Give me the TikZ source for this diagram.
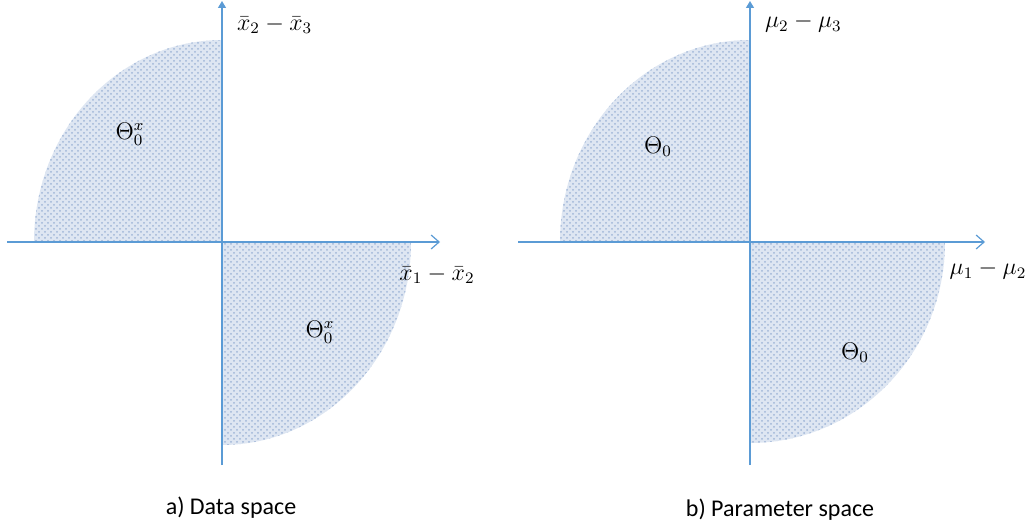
\documentclass[tikz,border=0pt]{standalone}
\usepackage{amsmath,amssymb}
\usepackage{fontspec}
\newfontfamily\capfont{Carlito}
\usepackage{tikz}
\usetikzlibrary{arrows.meta, patterns}

\definecolor{axisblue}{RGB}{91,155,213}
\definecolor{regionbg}{RGB}{222,230,242}
\definecolor{regiondot}{RGB}{160,182,215}

\begin{document}
\begin{tikzpicture}[
    x=0.5pt, y=-0.5pt,
    axis/.style={draw=axisblue, line width=0.6pt},
    xaxis/.style={axis, -{Straight Barb[length=4pt, width=7pt]}},
    yaxis/.style={axis, -{Triangle[length=3.5pt, width=4pt]}},
    region/.style={fill=regionbg, postaction={pattern=crosshatch dots, pattern color=regiondot}},
    lbl/.style={font=\fontsize{12}{14}\selectfont},
    caption/.style={font=\capfont\fontsize{12}{14}\selectfont}
]
\useasboundingbox (0,0) rectangle (1029,529);

% a) DATA SPACE
\begin{scope}[shift={(222,242)}]
    \coordinate (O1) at (0,0);
    \fill[region] (O1) -- (-188,0) arc[start angle=180, end angle=90, x radius=94pt, y radius=101pt] -- cycle;
    \fill[region] (O1) -- (189,0) arc[start angle=0, end angle=-90, x radius=94.5pt, y radius=101.5pt] -- cycle;

    \coordinate (xs1) at (-215,0);
    \coordinate (xe1) at (218,0);
    \coordinate (ys1) at (0,223);
    \coordinate (ye1) at (0,-241);
    \draw[xaxis] (xs1) -- (xe1);
    \draw[yaxis] (ys1) -- (ye1);

    \node[lbl, anchor=west] (ylab1) at (8,-217) {$\bar{x}_2-\bar{x}_3$};
    \node[lbl] (xlab1) at (215,33) {$\bar{x}_1-\bar{x}_2$};
    \node[lbl] (th1a) at (-92,-108) {$\Theta_0^x$};
    \node[lbl] (th1b) at (98,90) {$\Theta_0^x$};
\end{scope}
\node[caption] (capa) at (231,508) {a) Data space};

% b) PARAMETER SPACE
\begin{scope}[shift={(750,242)}]
    \coordinate (O2) at (0,0);
    \fill[region] (O2) -- (-190,0) arc[start angle=180, end angle=90, x radius=95pt, y radius=101pt] -- cycle;
    \fill[region] (O2) -- (195,0) arc[start angle=0, end angle=-90, x radius=97.5pt, y radius=100.5pt] -- cycle;

    \coordinate (xs2) at (-232,0);
    \coordinate (xe2) at (235,0);
    \coordinate (ys2) at (0,223);
    \coordinate (ye2) at (0,-241);
    \draw[xaxis] (xs2) -- (xe2);
    \draw[yaxis] (ys2) -- (ye2);

    \node[lbl, anchor=west] (ylab2) at (8,-219) {$\mu_2-\mu_3$};
    \node[lbl] (xlab2) at (238,28) {$\mu_1-\mu_2$};
    \node[lbl] (th2a) at (-92,-95) {$\Theta_0$};
    \node[lbl] (th2b) at (105,111) {$\Theta_0$};
\end{scope}
\node[caption] (capb) at (780,510) {b) Parameter space};

\end{tikzpicture}
\end{document}
